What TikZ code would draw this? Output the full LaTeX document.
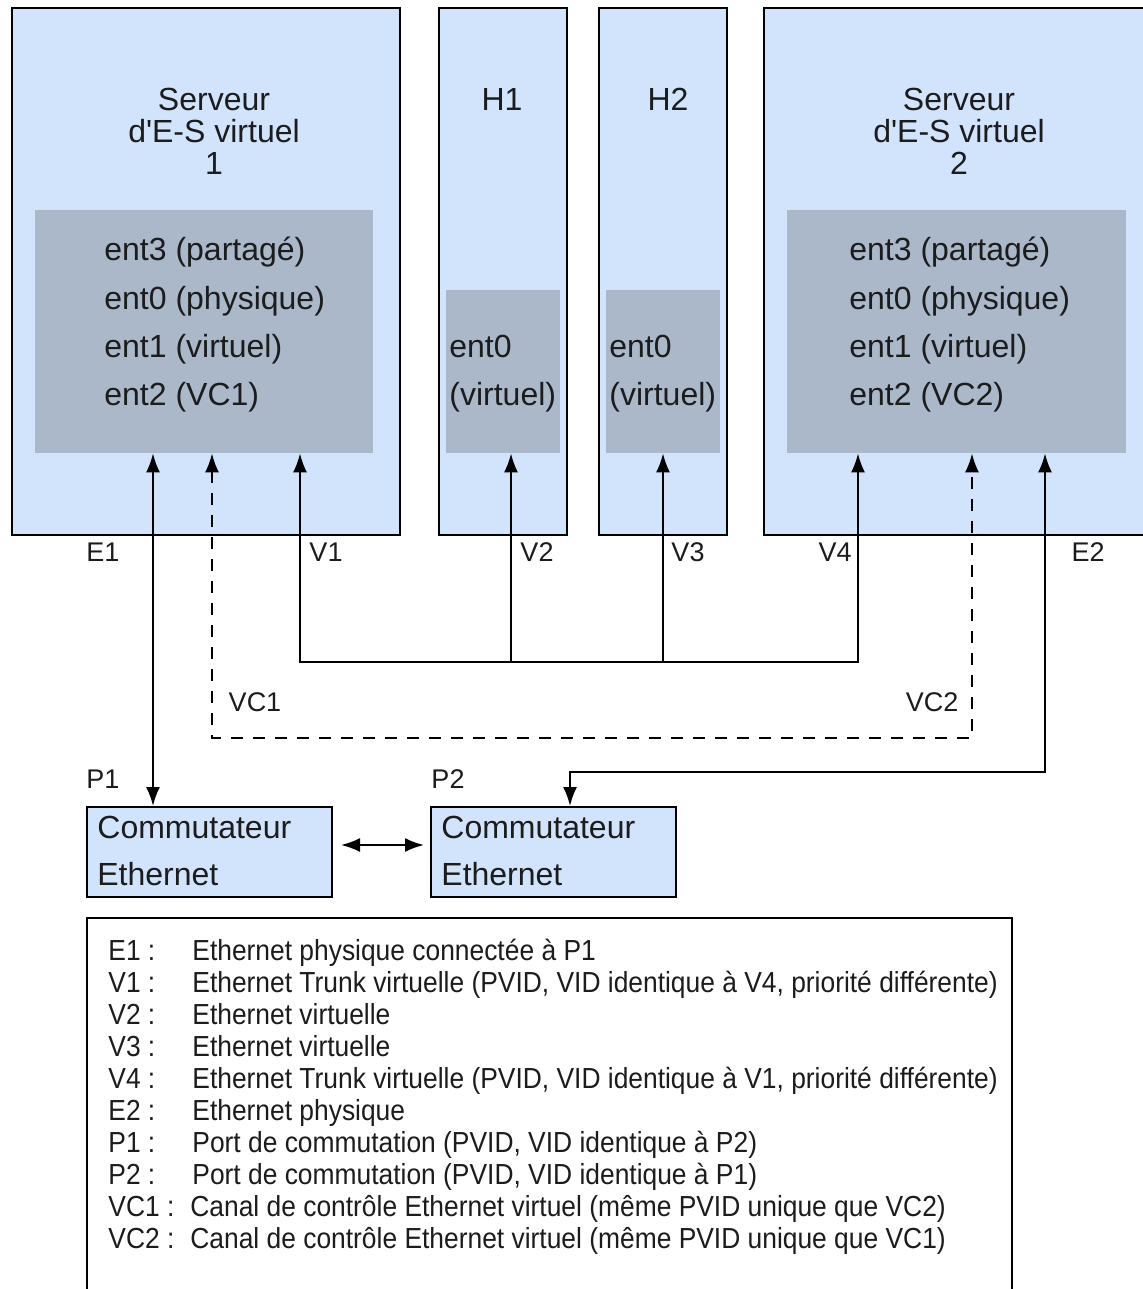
\documentclass[tikz,border=0pt]{standalone}
\usepackage{fontspec}
\setmainfont{Liberation Sans}
\newfontfamily\keyfont[FakeStretch=0.91]{Liberation Sans}
\usetikzlibrary{arrows.meta,fit}
\definecolor{hostblue}{RGB}{210,228,252}
\definecolor{adaptgrey}{RGB}{170,184,202}
\definecolor{ink}{RGB}{28,28,28}
\begin{document}
\begin{tikzpicture}[x=0.5pt,y=-0.5pt,
  frame/.style={draw=black, line width=1pt, fill=hostblue, inner sep=0pt},
  adapter/.style={fill=adaptgrey, inner sep=0pt},
  big/.style={font=\fontsize{16}{16}\selectfont, text=ink, inner sep=0pt},
  tag/.style={font=\fontsize{13.5}{13.5}\selectfont, text=ink, inner sep=0pt},
  legend/.style={font=\keyfont\fontsize{14.5}{14.5}\selectfont, text=ink, inner sep=0pt, anchor=base west},
  link/.style={line width=1pt, draw=black},
  tip/.style={-{Latex[length=9.5pt,width=7pt]}},
  bitip/.style={{Latex[length=9.5pt,width=7pt]}-{Latex[length=9.5pt,width=7pt]}},
  ctrl/.style={line width=1pt, draw=black, dash pattern=on 6pt off 5pt}
]
\useasboundingbox (0,0) rectangle (1142,1289);

% ---- partitions ----
\node[frame, fit={(12,8) (400,535)}] (vios1) {};
\node[frame, fit={(439,8) (567,535)}] (h1) {};
\node[frame, fit={(599,8) (727,535)}] (h2) {};
\node[frame, fit={(764,8) (1160,535)}] (vios2) {};

% ---- adapter areas ----
\node[adapter, fit={(35,210) (373,453)}] (g1) {};
\node[adapter, fit={(446,290) (560,453)}] (gh1) {};
\node[adapter, fit={(606,290) (720,453)}] (gh2) {};
\node[adapter, fit={(787,210) (1126,453)}] (g2) {};

% ---- partition titles ----
\node[big, anchor=base] (t1a) at (214,111) {Serveur};
\node[big, anchor=base] (t1b) at (214,143) {d\textquotesingle E-S virtuel};
\node[big, anchor=base] (t1c) at (214,175) {1};
\node[big, anchor=base] (t2a) at (959,111) {Serveur};
\node[big, anchor=base] (t2b) at (959,143) {d\textquotesingle E-S virtuel};
\node[big, anchor=base] (t2c) at (959,175) {2};
\node[big, anchor=base] (th1) at (502,111) {H1};
\node[big, anchor=base] (th2) at (668,111) {H2};

% ---- adapter lists ----
\foreach \txt [count=\i from 0] in {ent3 (partagé), ent0 (physique), ent1 (virtuel), ent2 (VC1)}
  \node[big, anchor=base west] (a1\i) at (104,{261+48*\i}) {\txt};
\foreach \txt [count=\i from 0] in {ent3 (partagé), ent0 (physique), ent1 (virtuel), ent2 (VC2)}
  \node[big, anchor=base west] (a2\i) at (849,{261+48*\i}) {\txt};
\node[big, anchor=base west] (h1a) at (449,357) {ent0};
\node[big, anchor=base west] (h1b) at (449,405) {(virtuel)};
\node[big, anchor=base west] (h2a) at (609,357) {ent0};
\node[big, anchor=base west] (h2b) at (609,405) {(virtuel)};

% ---- switches ----
\node[frame, fit={(87,807) (332,897)}] (sw1) {};
\node[frame, fit={(431,807) (676,897)}] (sw2) {};
\node[big, anchor=base west] (s1a) at (97,838) {Commutateur};
\node[big, anchor=base west] (s1b) at (97,885) {Ethernet};
\node[big, anchor=base west] (s2a) at (441,838) {Commutateur};
\node[big, anchor=base west] (s2b) at (441,885) {Ethernet};

% ---- connector routing points ----
\coordinate (xe1) at (153,0);
\coordinate (xvc1) at (212,0);
\coordinate (xv1) at (300,0);
\coordinate (xv2) at (511,0);
\coordinate (xv3) at (663,0);
\coordinate (xv4) at (858,0);
\coordinate (xvc2) at (972,0);
\coordinate (xe2) at (1045,0);
\coordinate (xp2) at (570,0);
\coordinate (yv) at (0,662);
\coordinate (yvc) at (0,738);
\coordinate (ye2) at (0,772);
\coordinate (ylink) at (0,845);

% E1: physical link to switch port P1
\draw[link, bitip] (sw1.north -| xe1) -- (g1.south -| xe1);
% control channel VC1 -- VC2
\draw[ctrl, bitip] (g1.south -| xvc1) -- (xvc1 |- yvc) -- (xvc2 |- yvc) -- (g2.south -| xvc2);
% trunk V1 -- V4 with V2 and V3
\draw[link, bitip] (g1.south -| xv1) -- (xv1 |- yv) -- (xv4 |- yv) -- (g2.south -| xv4);
\draw[link, tip] (xv2 |- yv) -- (gh1.south -| xv2);
\draw[link, tip] (xv3 |- yv) -- (gh2.south -| xv3);
% E2: physical link to switch port P2
\draw[link, bitip] (g2.south -| xe2) -- (xe2 |- ye2) -- (xp2 |- ye2) -- (sw2.north -| xp2);
% inter-switch link
\draw[link, bitip, shorten <=4pt, shorten >=3pt] (sw1.east |- ylink) -- (sw2.west |- ylink);

% ---- port labels ----
\node[tag] (le1) at (103,552) {E1};
\node[tag] (lv1) at (326,552) {V1};
\node[tag] (lv2) at (537,552) {V2};
\node[tag] (lv3) at (688,552) {V3};
\node[tag] (lv4) at (835,552) {V4};
\node[tag] (le2) at (1088,552) {E2};
\node[tag] (lvc1) at (255,702) {VC1};
\node[tag] (lvc2) at (932,702) {VC2};
\node[tag] (lp1) at (103,779) {P1};
\node[tag] (lp2) at (448,779) {P2};

% ---- legend ----
\node[draw=black, line width=1pt, fill=white, inner sep=0pt, fit={(87,918) (1012,1310)}] (key) {};
\foreach \lab/\xx/\txt [count=\i from 0] in {
  E1 :/192/{Ethernet physique connectée à P1},
  V1 :/192/{Ethernet Trunk virtuelle (PVID, VID identique à V4, priorité différente)},
  V2 :/192/{Ethernet virtuelle},
  V3 :/192/{Ethernet virtuelle},
  V4 :/192/{Ethernet Trunk virtuelle (PVID, VID identique à V1, priorité différente)},
  E2 :/192/{Ethernet physique},
  P1 :/192/{Port de commutation (PVID, VID identique à P2)},
  P2 :/192/{Port de commutation (PVID, VID identique à P1)},
  VC1 :/190/{Canal de contrôle Ethernet virtuel (même PVID unique que VC2)},
  VC2 :/190/{Canal de contrôle Ethernet virtuel (même PVID unique que VC1)}}
{
  \node[legend] (kl\i) at (108,{960+32.1*\i}) {\lab};
  \node[legend] (kt\i) at (\xx,{960+32.1*\i}) {\txt};
}
\end{tikzpicture}
\end{document}
